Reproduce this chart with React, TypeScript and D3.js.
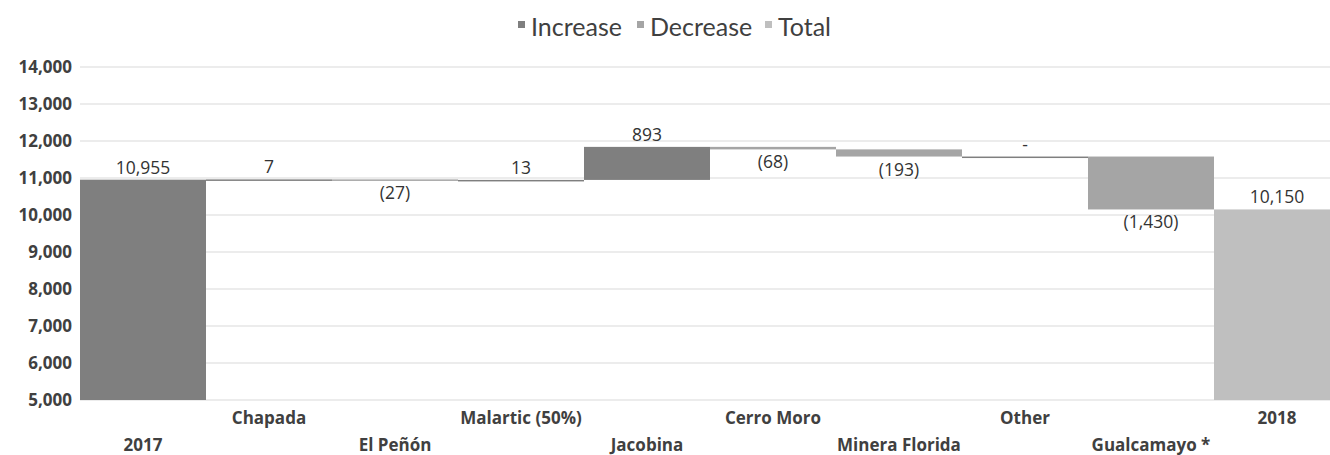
import * as d3 from 'd3';

const categories = ['2017', 'Chapada', 'El Peñón', 'Malartic (50%)', 'Jacobina', 'Cerro Moro', 'Minera Florida', 'Other', 'Gualcamayo *', '2018'];
const changes = [10955, 7, -27, 13, 893, -68, -193, 0, -1430, 10150];
const kinds = ['start', 'inc', 'dec', 'inc', 'inc', 'dec', 'dec', 'inc', 'dec', 'total'];
const yTicks = [5000, 6000, 7000, 8000, 9000, 10000, 11000, 12000, 13000, 14000];
const legendItems = ['Increase', 'Decrease', 'Total'];

const colors: Record<string, string> = {
  start: '#7f7f7f',
  inc: '#7f7f7f',
  dec: '#a5a5a5',
  total: '#bfbfbf',
};
const legendColors = ['#7f7f7f', '#a5a5a5', '#bfbfbf'];

const W = 1330;
const H = 455;
const font = '"Open Sans", Lato, sans-serif';

export default function App() {
  const x = d3.scaleBand<string>().domain(categories).range([80, 1340]).padding(0);
  const y = d3.scaleLinear().domain([5000, 14000]).range([400, 67]);
  const fmt = d3.format(',');

  // running totals for waterfall
  let running = 0;
  const bars = categories.map((c, i) => {
    const k = kinds[i];
    let lo: number, hi: number;
    if (k === 'start' || k === 'total') {
      lo = 5000;
      hi = changes[i];
      running = changes[i];
    } else {
      const next = running + changes[i];
      lo = Math.min(running, next);
      hi = Math.max(running, next);
      running = next;
    }
    let label: string;
    if (k === 'start' || k === 'total') label = fmt(changes[i]);
    else if (changes[i] === 0) label = '-';
    else if (changes[i] < 0) label = `(${fmt(-changes[i])})`;
    else label = fmt(changes[i]);
    return { c, k, lo, hi, label, i };
  });

  const legendX = [518, 637, 765];

  return (
    <svg width={W} height={H} style={{ position: 'absolute', left: 0, top: 0, background: '#fff' }} fontFamily={font}>
      {/* legend */}
      {legendItems.map((d, i) => (
        <g key={d}>
          <rect x={legendX[i]} y={21} width={7} height={7} fill={legendColors[i]} />
          <text x={legendX[i] + 13} y={36} fontSize={25} fontFamily="Lato, sans-serif" fill="#404040">{d}</text>
        </g>
      ))}

      {/* grid */}
      {yTicks.map((t) => (
        <line key={t} x1={80} x2={W} y1={y(t)} y2={y(t)} stroke="#e6e6e6" strokeWidth={1.5} />
      ))}
      {yTicks.map((t) => (
        <text key={'l' + t} x={72} y={y(t) + 6} textAnchor="end" fontSize={17} fontWeight="bold" fill="#404040">
          {fmt(t)}
        </text>
      ))}

      {/* bars */}
      {bars.map((b) => {
        const top = y(b.hi);
        const h = Math.max(y(b.lo) - y(b.hi), 1.5);
        return (
          <rect key={b.c} x={x(b.c)!} y={top} width={x.bandwidth()} height={h} fill={colors[b.k]} />
        );
      })}

      {/* data labels */}
      {bars.map((b) => {
        const cx = x(b.c)! + x.bandwidth() / 2;
        const below = b.k === 'dec';
        const yy = below ? y(b.lo) + 19 : y(b.hi) - 6;
        return (
          <text key={'d' + b.c} x={cx} y={yy} textAnchor="middle" fontSize={17.5} fill="#333">
            {b.label}
          </text>
        );
      })}

      {/* category labels, staggered */}
      {categories.map((c, i) => (
        <text
          key={'c' + c}
          x={x(c)! + x.bandwidth() / 2}
          y={i % 2 === 0 ? 451 : 424}
          textAnchor="middle"
          fontSize={17}
          fontWeight="bold"
          fill="#404040"
        >
          {c}
        </text>
      ))}
    </svg>
  );
}
